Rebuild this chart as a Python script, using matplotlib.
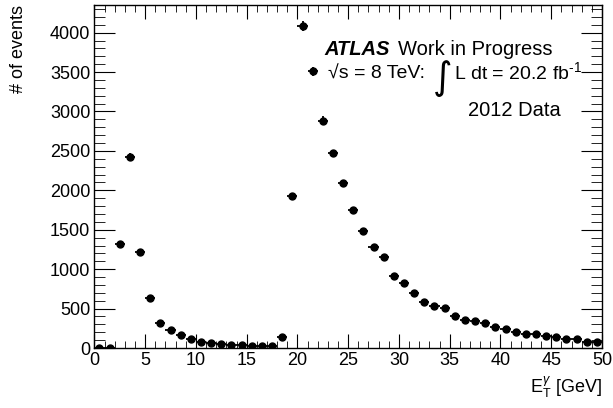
import matplotlib
matplotlib.use("Agg")
import matplotlib.pyplot as plt
import numpy as np
from matplotlib.ticker import MultipleLocator

plt.rcParams['font.family'] = ['Liberation Sans', 'DejaVu Sans']
plt.rcParams['mathtext.fontset'] = 'custom'
plt.rcParams['mathtext.rm'] = 'Liberation Sans'
plt.rcParams['mathtext.it'] = 'Liberation Sans:italic'

# photon ET histogram, 1 GeV bins from 0 to 50
bin_edges = np.arange(0, 51, 1)
counts = [3, 2, 1317, 2425, 1219, 631, 322, 229, 165, 118,
          72, 68, 47, 40, 36, 28, 30, 28, 140, 1925,
          4080, 3509, 2883, 2468, 2087, 1752, 1490, 1278, 1151, 910,
          821, 694, 584, 537, 504, 410, 356, 339, 313, 271,
          245, 199, 174, 182, 148, 140, 114, 118, 80, 80]

centers = 0.5 * (bin_edges[:-1] + bin_edges[1:])
counts = np.array(counts, dtype=float)
yerr = np.sqrt(counts)
xerr = 0.5 * np.diff(bin_edges)

fs = 13
tfs = 14.5
fig = plt.figure(figsize=(6.13, 4.08), dpi=100)
ax = fig.add_axes([0.154, 0.147, 0.828, 0.841])

ax.errorbar(centers, counts, xerr=xerr, yerr=yerr, fmt='o', color='black',
            ms=5, elinewidth=1.3, capsize=0)

ax.set_xlim(0, 50)
ax.set_ylim(0, 4352)
ax.xaxis.set_major_locator(MultipleLocator(5))
ax.xaxis.set_minor_locator(MultipleLocator(1))
ax.yaxis.set_major_locator(MultipleLocator(500))
ax.yaxis.set_minor_locator(MultipleLocator(100))
ax.tick_params(which='both', direction='in', top=True, right=True, labelsize=fs)
ax.tick_params(axis='x', which='major', length=10, pad=3)
ax.tick_params(axis='x', which='minor', length=5)
ax.tick_params(axis='y', which='major', length=15, pad=3)
ax.tick_params(axis='y', which='minor', length=8)
for s in ax.spines.values():
    s.set_linewidth(1.0)

ax.set_xlabel(r'E$_{\mathrm{T}}^{\gamma}$ [GeV]', fontsize=fs, loc='right')
ax.set_ylabel('# of events', fontsize=fs, loc='top')
ax.yaxis.set_label_coords(-0.133, 1.0)

# ATLAS label block
ax.text(0.454, 0.854, 'ATLAS', transform=ax.transAxes, fontsize=tfs,
        fontweight='bold', fontstyle='italic')
ax.text(0.598, 0.854, 'Work in Progress', transform=ax.transAxes, fontsize=tfs)
ax.text(0.460, 0.784, '\u221as = 8 TeV:', transform=ax.transAxes, fontsize=14)
ax.text(0.687, 0.784, '\u222b', transform=ax.transAxes, fontsize=27,
        family='DejaVu Sans', ha='center', va='center')
ax.text(0.708, 0.784, r'L dt = 20.2 fb$^{\text{-1}}$', transform=ax.transAxes,
        fontsize=14)
ax.text(0.736, 0.676, '2012 Data', transform=ax.transAxes, fontsize=tfs)

fig.savefig('out.png', dpi=100)
